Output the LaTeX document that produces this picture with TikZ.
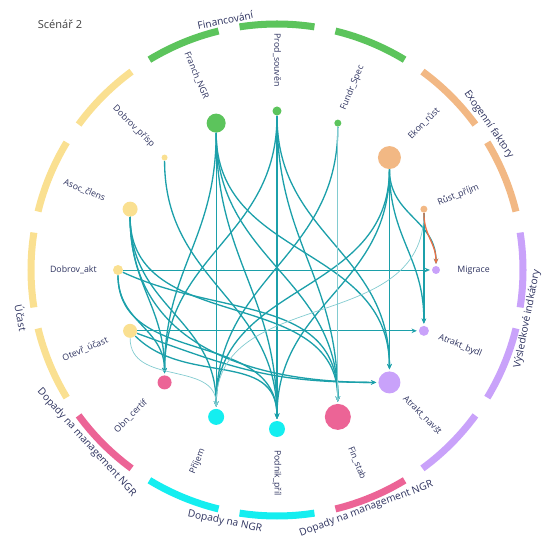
\documentclass[tikz,border=0pt]{standalone}
\usepackage{fontspec}
\setmainfont{Open Sans}
\usetikzlibrary{arrows.meta}

\definecolor{grn}{RGB}{92,196,92}
\definecolor{org}{RGB}{242,184,132}
\definecolor{ylw}{RGB}{250,224,145}
\definecolor{prp}{RGB}{201,162,250}
\definecolor{pnk}{RGB}{236,100,150}
\definecolor{cyn}{RGB}{20,238,240}
\definecolor{lnkc}{RGB}{28,160,170}
\definecolor{redc}{RGB}{236,112,70}
\definecolor{txtc}{RGB}{45,50,95}

\tikzset{
  seg/.style={line width=4pt},
  vert/.style={circle, inner sep=0pt, fill=#1},
  lbl/.style={text=txtc, font=\fontsize{5}{6}\selectfont, inner sep=0pt},
  grp/.style={text=txtc, font=\fontsize{5.8}{7}\selectfont, inner sep=0pt},
  lnk/.style={draw=lnkc, line width=0.75pt, -{Stealth[length=3pt,width=2.6pt]},
    shorten >=1pt, looseness=1.1},
  thinlnk/.style={lnk, line width=0.5pt},
  faint/.style={lnk, draw=lnkc!55, line width=0.4pt},
}

\begin{document}
\begin{tikzpicture}[x=0.02cm, y=0.02cm]
\useasboundingbox (-277,-266) rectangle (266,270);

% Title
\node [font=\fontsize{6.3}{8}\selectfont, text=black!75] (title) at (-217,246) {Scénář 2};

% Outer ring, one coloured arc per factor
\foreach \ang/\col in {90/grn, 67.5/grn, 45/org, 22.5/org, 0/prp, -22.5/prp,
  -45/prp, -67.5/pnk, -90/cyn, -112.5/cyn, -135/pnk, -157.5/ylw, 180/ylw,
  157.5/ylw, 135/ylw, 112.5/grn} {
  \draw [seg, \col] (\ang-8.75:246) arc [start angle=\ang-8.75, end angle=\ang+8.75, radius=246];
}

% Group names round the ring
\foreach \ang/\rad/\rot/\txt [count=\i] in {
  101.7/255/11.7/Financování,
  34.5/257/-55.5/{Exogenní faktory},
  -11.1/255/78.9/{Výsledkové indkátory},
  -69.5/255/20.5/{Dopady na management NGR},
  -101.7/257/-11.7/{Dopady na NGR},
  -137.8/257/-47.8/{Dopady na management NGR},
  -169.4/260/-79.4/Účast} {
  \node [grp, rotate=\rot] (grp\i) at (\ang:\rad) {\txt};
}

% Factors on the right half, labels read outwards
\foreach \ang/\id/\sz/\col/\lr/\txt in {
  67.5/fundr/3.5/grn/173/Fundr\_Spec,
  45/ekon/11.5/org/187/Ekon\_růst,
  22.5/rust/3.5/org/174/Růst\_příjm,
  0/migr/4/prp/180/Migrace,
  -22.5/bydl/5/prp/175/Atrakt\_bydl,
  -45/navst/11/prp/180/Atrakt\_navšt,
  -67.5/fin/13/pnk/192/Fin\_stab,
  -90/podnik/8/cyn/180/Podnik\_příl} {
  \node [vert=\col, minimum size=\sz*0.04cm] (\id) at (\ang:159) {};
  \node [lbl, anchor=west, rotate=\ang] (\id-l) at (\ang:\lr) {\txt};
}

% Factors on the left half, labels read inwards
\foreach \ang/\id/\sz/\col/\lr/\txt in {
  90/prod/4.5/grn/183/Prod\_souvěn,
  112.5/franch/9.5/grn/185/Franch\_NGR,
  135/dprisp/3/ylw/175/Dobrov\_přísp,
  157.5/asoc/7.5/ylw/186/Asoc\_člens,
  180/dakt/5/ylw/180/Dobrov\_akt,
  202.5/otevr/7/ylw/183/Otevř\_účast,
  225/obn/7/pnk/185/Obn\_certif,
  247.5/prijem/8/cyn/194/Příjem} {
  \node [vert=\col, minimum size=\sz*0.04cm] (\id) at (\ang:159) {};
  \node [lbl, anchor=east, rotate=\ang+180] (\id-l) at (\ang:\lr) {\txt};
}

% Links
\foreach \a/\b/\o/\n in {
  franch/prijem/-90/90, franch/fin/-90/90, franch/navst/-90/90,
  franch/podnik/-90/90, franch/obn/-90/90,
  prod/podnik/-90/90, prod/fin/-90/90, prod/obn/-90/90, prod/navst/-90/90,
  fundr/prijem/-90/90,
  ekon/migr/-90/90, ekon/bydl/-90/90, ekon/navst/-90/90,
  ekon/podnik/-90/90, ekon/prijem/-90/90,
  rust/bydl/-90/90, dprisp/podnik/-90/90,
  asoc/obn/-90/90, asoc/prijem/-90/90, asoc/fin/-90/90, asoc/navst/-90/180,
  dakt/obn/-90/90, dakt/podnik/-90/90, dakt/fin/-25/90,
  otevr/podnik/-45/90, otevr/navst/-20/180} {
  \draw [lnk] (\a) to [out=\o, in=\n] (\b);
}

% Straight links across the ring
\draw [thinlnk] (dakt) -- (migr);
\draw [thinlnk] (otevr) -- (bydl);

% Weak links
\foreach \a/\b/\o/\n in {fundr/fin/-90/90, rust/prijem/-90/90, otevr/prijem/-90/90} {
  \draw [faint] (\a) to [out=\o, in=\n] (\b);
}

% Negative link
\draw [lnk, draw=redc] (rust) to [out=-90, in=90] (migr);

\end{tikzpicture}
\end{document}
